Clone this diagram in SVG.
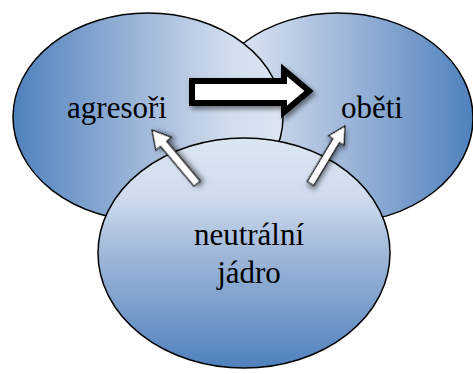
<svg xmlns="http://www.w3.org/2000/svg" width="473" height="374" viewBox="0 0 473 374">
  <style>
    .node { stroke: #000; stroke-width: 1.5; }
    .lbl { font-family: "Liberation Serif", "Times New Roman", serif; font-size: 31px; fill: #000; text-anchor: middle; }
    .arr { fill: #fff; stroke: #000; filter: url(#shadow); }
  </style>
  <defs>
    <linearGradient id="gL" x1="0" y1="0" x2="1" y2="0">
      <stop offset="0" stop-color="#4f81bd"/>
      <stop offset="0.5" stop-color="#a3badb"/>
      <stop offset="0.8" stop-color="#d2ddee"/>
      <stop offset="1" stop-color="#dce6f2"/>
    </linearGradient>
    <linearGradient id="gR" x1="1" y1="0" x2="0" y2="0">
      <stop offset="0" stop-color="#4f81bd"/>
      <stop offset="0.5" stop-color="#a3badb"/>
      <stop offset="0.8" stop-color="#d2ddee"/>
      <stop offset="1" stop-color="#dce6f2"/>
    </linearGradient>
    <linearGradient id="gN" x1="0" y1="1" x2="0" y2="0">
      <stop offset="0" stop-color="#4f81bd"/>
      <stop offset="0.5" stop-color="#a0b8d9"/>
      <stop offset="0.75" stop-color="#d0dcee"/>
      <stop offset="1" stop-color="#dce6f2"/>
    </linearGradient>
    <filter id="shadow" x="-30%" y="-30%" width="160%" height="160%">
      <feDropShadow dx="2.5" dy="3" stdDeviation="2.5" flood-color="#000" flood-opacity="0.5"/>
    </filter>
  </defs>
  <g id="obeti">
    <ellipse class="node" cx="338" cy="118" rx="135" ry="105" fill="url(#gR)"/>
  </g>
  <g id="agresori">
    <ellipse class="node" cx="148" cy="117" rx="135" ry="104" fill="url(#gL)"/>
  </g>
  <g id="neutralni">
    <ellipse class="node" cx="244" cy="253" rx="146" ry="115" fill="url(#gN)"/>
  </g>
  <g id="connectors">
    <polygon class="arr" stroke-width="6" stroke-linejoin="miter" points="192,81 284,81 284,70 309,91 284,112 284,103 192,103"/>
    <polygon class="arr" stroke-width="1.2" transform="translate(152,130) rotate(-40)" points="0,0 10,18 4,18 4,70 -4,70 -4,18 -10,18"/>
    <polygon class="arr" stroke-width="1.2" transform="translate(345,126) rotate(31)" points="0,0 9,17 3.8,17 3.8,67 -3.8,67 -3.8,17 -9,17"/>
  </g>
  <g id="labels">
    <text class="lbl" x="117" y="118">agresoři</text>
    <text class="lbl" x="372" y="118">oběti</text>
    <text class="lbl" x="249" y="245">neutrální</text>
    <text class="lbl" x="249" y="283">jádro</text>
  </g>
</svg>
